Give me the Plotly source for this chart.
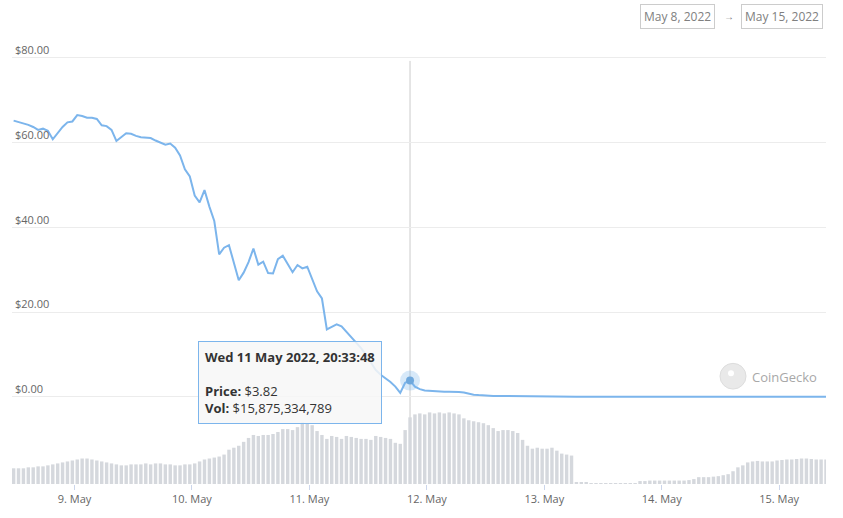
import pandas as pd
import plotly.graph_objects as go

# ---------------- data ----------------
start_time = "2022-05-08 11:33:48"
n_points = 167
times = pd.date_range(start_time, periods=n_points, freq="h")

price = [
    65.2, 64.9, 64.6, 64.2, 63.7, 63.0, 63.3, 62.8, 60.8, 62.2, 63.7, 64.8, 65.0,
    66.5, 66.3, 65.9, 65.9, 65.6, 64.1, 63.9, 63.0, 60.4, 61.2, 62.2, 62.1,
    61.6, 61.3, 61.2, 61.1, 60.5, 60.0, 59.5, 59.8, 58.8, 57.0, 53.7, 52.0,
    47.5, 45.9, 48.8, 44.9, 41.5, 33.6, 35.2, 35.8, 31.7, 27.5, 29.3, 31.8,
    35.0, 31.2, 31.9, 29.2, 29.1, 32.5, 33.3, 31.4, 29.4, 31.1, 30.3, 30.7,
    28.0, 24.9, 23.2, 15.9, 16.5, 17.1, 16.6, 15.3, 14.2, 12.8, 11.5, 9.9,
    8.2, 6.3, 5.2, 4.4, 3.5, 2.4, 0.9, 3.3, 3.82, 2.4, 1.8, 1.5,
    1.4, 1.3, 1.2, 1.2, 1.2, 1.2, 1.1, 1.0, 0.7, 0.5, 0.4, 0.3, 0.25, 0.2,
    0.19, 0.17, 0.16, 0.15, 0.14, 0.12, 0.11, 0.10, 0.09, 0.08,
    0.07, 0.06, 0.05, 0.04, 0.03, 0.02, 0.015, 0.01, 0.008, 0.006,
    0.005, 0.004, 0.003, 0.002, 0.0015, 0.001, 0.0008, 0.0006, 0.0005, 0.0004,
    0.0003, 0.0003, 0.0003, 0.0002, 0.0002, 0.0002, 0.0002, 0.0002, 0.0002, 0.0002,
    0.0002, 0.0002, 0.0002, 0.0002, 0.0002, 0.0002, 0.0002, 0.0002, 0.0002, 0.0002,
    0.0002, 0.0002, 0.0002, 0.0002, 0.0002, 0.0002, 0.0002, 0.0002, 0.0002, 0.0002,
    0.0002, 0.0002, 0.0002, 0.0002, 0.0002, 0.0002, 0.0002, 0.0002,
]

# 24h volume, billions USD
volume = [
    3.74, 3.74, 3.74, 3.97, 3.97, 4.20, 4.20, 4.44, 4.67, 4.90, 5.14, 5.37, 5.60,
    5.84, 6.07, 6.07, 5.84, 5.60, 5.37, 5.14, 4.90, 4.67, 4.44, 4.44, 4.67,
    4.67, 4.67, 4.90, 4.67, 4.90, 4.90, 4.67, 4.67, 4.44, 4.44, 4.67, 4.67,
    4.90, 5.37, 5.84, 6.07, 6.30, 6.54, 7.01, 8.17, 8.64, 9.11, 10.04, 10.97,
    11.68, 11.44, 11.68, 11.68, 11.91, 12.38, 13.08, 13.08, 12.84, 13.54, 14.71, 14.48,
    14.01, 12.61, 11.68, 10.74, 11.44, 11.21, 10.74, 11.44, 11.21, 10.97, 10.74, 10.74,
    10.51, 11.44, 11.21, 10.97, 10.74, 9.81, 9.57, 12.84, 15.875, 16.58, 16.81, 16.58,
    17.05, 16.81, 17.05, 16.81, 17.05, 16.81, 16.58, 15.64, 15.18, 14.94, 14.71, 14.48,
    14.01, 13.31, 12.61, 12.84, 12.84, 12.61, 12.14, 10.51, 9.11, 8.41, 8.64, 8.41,
    8.41, 8.64, 7.94, 7.24, 7.01, 6.77, 0.47, 0.47, 0.35, 0.12,
    0.07, 0.07, 0.07, 0.07, 0.07, 0.07, 0.07, 0.07, 0.12, 0.70,
    0.70, 0.82, 0.82, 0.82, 0.82, 0.82, 0.82, 0.82, 0.82, 0.93,
    1.17, 1.63, 1.63, 1.63, 1.75, 1.87, 2.10, 2.34, 3.04, 3.97,
    4.44, 5.14, 5.37, 5.49, 5.37, 5.37, 5.37, 5.60, 5.72, 5.84,
    5.84, 5.95, 6.07, 6.07, 5.95, 5.84, 5.84, 5.84,
]

hover_index = 81
hover_label = "Wed 11 May 2022, 20:33:48"
hover_price = "$3.82"
hover_vol = "$15,875,334,789"

price_ticks = [0, 20, 40, 60, 80]
price_ticktext = ["$0.00", "$20.00", "$40.00", "$60.00", "$80.00"]
range_start_label = "May 8, 2022"
range_end_label = "May 15, 2022"

# ---------------- figure ----------------
FONT = "Open Sans"
LINE = "#7cb5ec"

fig = go.Figure()

fig.add_trace(go.Bar(
    x=times, y=volume, yaxis="y2",
    marker=dict(color="#d5d8dd", line=dict(width=0)),
    hoverinfo="skip",
))

fig.add_trace(go.Scatter(
    x=times, y=price, mode="lines",
    line=dict(color=LINE, width=2),
    hoverinfo="skip",
))

# highlighted point (halo + dot)
fig.add_trace(go.Scatter(
    x=[times[hover_index]], y=[price[hover_index]], mode="markers",
    marker=dict(size=20, color="rgba(124,181,236,0.30)", line=dict(width=0)),
    hoverinfo="skip",
))
fig.add_trace(go.Scatter(
    x=[times[hover_index]], y=[price[hover_index]], mode="markers",
    marker=dict(size=8, color="#6fa8dc", line=dict(width=0)),
    hoverinfo="skip",
))

# crosshair
fig.add_shape(type="line", xref="x", yref="paper",
              x0=times[hover_index], x1=times[hover_index], y0=0, y1=0.955,
              line=dict(color="#cccccc", width=1), layer="below")

# watermark
fig.add_shape(type="circle", xref="paper", yref="paper",
              x0=(720 - 12) / 814, x1=(746 - 12) / 814,
              y0=(488 - 392) / 448, y1=(488 - 366) / 448,
              fillcolor="#e9e9e9", line=dict(color="#dddddd", width=1), layer="below")
fig.add_shape(type="circle", xref="paper", yref="paper",
              x0=(728 - 12) / 814, x1=(734 - 12) / 814,
              y0=(488 - 379) / 448, y1=(488 - 373) / 448,
              fillcolor="#ffffff", line=dict(width=0), layer="below")
fig.add_annotation(xref="paper", yref="paper", x=(750 - 12) / 814, y=(488 - 380) / 448,
                   xanchor="left", yanchor="middle", showarrow=False,
                   text="CoinGecko", font=dict(family=FONT, size=13, color="#a8a8a8"))

# tooltip
tooltip_text = (f"<b>{hover_label}</b><br><br>"
                f"<b>Price:</b> {hover_price}<br><b>Vol:</b> {hover_vol}")
fig.add_annotation(xref="paper", yref="paper", x=(198 - 12) / 814, y=(488 - 343) / 448,
                   xanchor="left", yanchor="top", showarrow=False, align="left",
                   text=tooltip_text,
                   font=dict(family=FONT, size=13, color="#333333"),
                   bgcolor="rgba(247,247,247,0.85)", bordercolor=LINE,
                   borderwidth=1, borderpad=6)

# date range boxes
fig.add_annotation(xref="paper", yref="paper", x=(677 - 12) / 814, y=(488 - 15) / 448,
                   xanchor="center", yanchor="middle", showarrow=False,
                   text=range_start_label, font=dict(family=FONT, size=12, color="#808080"),
                   bgcolor="white", bordercolor="#cccccc", borderwidth=1, borderpad=3)
fig.add_annotation(xref="paper", yref="paper", x=(729 - 12) / 814, y=(488 - 15) / 448,
                   xanchor="center", yanchor="middle", showarrow=False,
                   text="→", font=dict(family=FONT, size=10, color="#808080"))
fig.add_annotation(xref="paper", yref="paper", x=(782 - 12) / 814, y=(488 - 15) / 448,
                   xanchor="center", yanchor="middle", showarrow=False,
                   text=range_end_label, font=dict(family=FONT, size=12, color="#808080"),
                   bgcolor="white", bordercolor="#cccccc", borderwidth=1, borderpad=3)

x_start = times[0] - pd.Timedelta(minutes=20)

fig.update_layout(
    width=843, height=518,
    margin=dict(l=12, r=17, t=41, b=28),
    paper_bgcolor="white", plot_bgcolor="white",
    showlegend=False, hovermode=False,
    bargap=0.3,
    font=dict(family=FONT, color="#666666"),
    xaxis=dict(
        type="date", range=[x_start, times[-1]],
        tick0="2022-05-09", dtick=86400000, tickformat="%-d. %b",
        showgrid=False, zeroline=False, showline=False,
        ticks="outside", ticklen=5, tickcolor="#ccd6eb",
        tickfont=dict(family=FONT, size=11, color="#666666"),
    ),
    yaxis=dict(
        range=[-20.6, 84.0],
        tickvals=price_ticks, ticktext=price_ticktext,
        ticklabelposition="inside top",
        showgrid=True, gridcolor="#ececec", gridwidth=1,
        zeroline=False, showline=False,
        tickfont=dict(family=FONT, size=11, color="#666666"),
    ),
    yaxis2=dict(
        overlaying="y", range=[0, 105.5],
        showgrid=False, showticklabels=False, zeroline=False, showline=False,
    ),
)

fig.write_html("out.html")
